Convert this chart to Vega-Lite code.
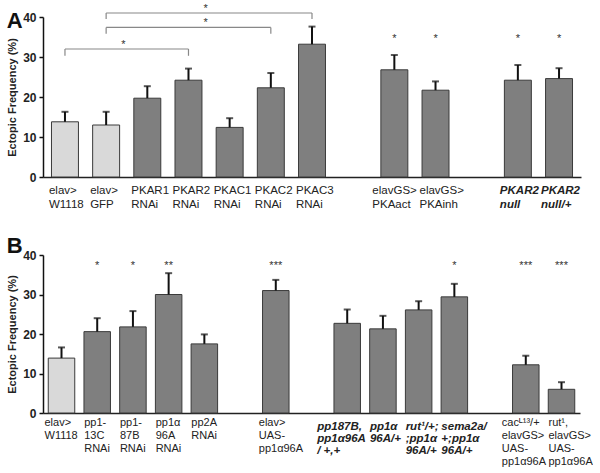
{
  "$schema": "https://vega.github.io/schema/vega-lite/v6.json",
  "autosize": {"type": "pad"},
  "padding": {"left": 6, "top": 3, "right": 0, "bottom": 0},
  "background": "white",
  "config": {
    "view": {"stroke": null},
    "font": "Liberation Sans",
    "axisY": {
      "domainColor": "#111", "domainWidth": 1.5, "tickColor": "#111", "tickSize": 4, "tickWidth": 1.5, "tickCount": 4,
      "labelFontSize": 12, "labelFontWeight": "bold", "labelColor": "#222", "labelPadding": 3,
      "titleFontSize": 11, "titleFontWeight": "bold", "titleColor": "#222", "titlePadding": 5, "grid": false
    }
  },
  "datasets": {
    "barsA": [
      {"id": "a1", "v": 13.8, "err": 16.3, "control": "yes", "italic": "no", "star": "", "label": "elav>\nW1118"},
      {"id": "a2", "v": 13.0, "err": 16.3, "control": "yes", "italic": "no", "star": "", "label": "elav>\nGFP"},
      {"id": "a3", "v": 19.7, "err": 22.7, "control": "no", "italic": "no", "star": "", "label": "PKAR1\nRNAi"},
      {"id": "a4", "v": 24.2, "err": 27.1, "control": "no", "italic": "no", "star": "", "label": "PKAR2\nRNAi"},
      {"id": "a5", "v": 12.4, "err": 14.7, "control": "no", "italic": "no", "star": "", "label": "PKAC1\nRNAi"},
      {"id": "a6", "v": 22.3, "err": 26.0, "control": "no", "italic": "no", "star": "", "label": "PKAC2\nRNAi"},
      {"id": "a7", "v": 33.2, "err": 37.6, "control": "no", "italic": "no", "star": "", "label": "PKAC3\nRNAi"},
      {"id": "a8", "v": 26.8, "err": 30.5, "control": "no", "italic": "no", "star": "*", "label": "elavGS>\nPKAact"},
      {"id": "a9", "v": 21.7, "err": 23.9, "control": "no", "italic": "no", "star": "*", "label": "elavGS>\nPKAinh"},
      {"id": "a10", "v": 24.2, "err": 28.0, "control": "no", "italic": "yes", "star": "*", "label": "PKAR2\nnull"},
      {"id": "a11", "v": 24.6, "err": 27.2, "control": "no", "italic": "yes", "star": "*", "label": "PKAR2\nnull/+"}
    ],
    "bracketsA": [
      {"from": "a1", "to": "a4", "level": 32.0, "foot": 30.3, "starAt": "a3"},
      {"from": "a2", "to": "a6", "level": 37.4, "foot": 35.8, "starAt": "a5"},
      {"from": "a2", "to": "a7", "level": 41.0, "foot": 39.5, "starAt": "a5"}
    ],
    "barsB": [
      {"id": "b1", "v": 13.9, "err": 16.6, "control": "yes", "italic": "no", "star": "", "label": "elav>\nW1118"},
      {"id": "b2", "v": 20.6, "err": 24.0, "control": "no", "italic": "no", "star": "*", "label": "pp1-\n13C\nRNAi"},
      {"id": "b3", "v": 21.8, "err": 25.8, "control": "no", "italic": "no", "star": "*", "label": "pp1-\n87B\nRNAi"},
      {"id": "b4", "v": 30.0, "err": 35.4, "control": "no", "italic": "no", "star": "**", "label": "pp1α\n96A\nRNAi"},
      {"id": "b5", "v": 17.5, "err": 19.9, "control": "no", "italic": "no", "star": "", "label": "pp2A\nRNAi"},
      {"id": "b6", "v": 31.0, "err": 33.7, "control": "no", "italic": "no", "star": "***", "label": "elav>\nUAS-\npp1α96A"},
      {"id": "b7", "v": 22.7, "err": 26.2, "control": "no", "italic": "yes", "star": "", "label": "pp187B,\npp1α96A\n/ +,+"},
      {"id": "b8", "v": 21.3, "err": 24.6, "control": "no", "italic": "yes", "star": "", "label": "pp1α\n96A/+"},
      {"id": "b9", "v": 26.1, "err": 28.3, "control": "no", "italic": "yes", "star": "", "label": "rut¹/+;\n;pp1α\n96A/+"},
      {"id": "b10", "v": 29.4, "err": 32.7, "control": "no", "italic": "yes", "star": "*", "label": "sema2a/\n+;pp1α\n96A/+"},
      {"id": "b11", "v": 12.2, "err": 14.5, "control": "no", "italic": "no", "star": "***", "label": "cacᴸ¹³/+\nelavGS>\nUAS-\npp1α96A"},
      {"id": "b12", "v": 6.0, "err": 7.8, "control": "no", "italic": "no", "star": "***", "label": "rut¹,\nelavGS>\nUAS-\npp1α96A"}
    ]
  },
  "spacing": 78,
  "bounds": "flush",
  "vconcat": [
    {
      "title": {"text": "A", "anchor": "start", "frame": "bounds", "fontSize": 22, "fontWeight": "bold", "color": "#111", "offset": -30},
      "width": 538,
      "height": 160,
      "layer": [
        {
          "data": {"name": "barsA"},
          "mark": {"type": "bar", "stroke": "#3a3a3a", "strokeWidth": 1},
          "encoding": {
            "x": {"field": "id", "type": "nominal",
              "scale": {"domain": ["a1","a2","a3","a4","a5","a6","a7","ag1","a8","a9","ag2","a10","a11"], "paddingInner": 0.345, "paddingOuter": 0.206},
              "axis": {"labels": false, "ticks": false, "title": null, "domainColor": "#222", "domainWidth": 1.5, "grid": false}},
            "y": {"field": "v", "type": "quantitative", "scale": {"domain": [0, 40], "nice": false},
              "axis": {"title": "Ectopic Frequency (%)"}},
            "fill": {"field": "control", "type": "nominal", "scale": {"domain": ["yes", "no"], "range": ["#d9d9d9", "#7f7f7f"]}, "legend": null}
          }
        },
        {
          "data": {"name": "barsA"},
          "mark": {"type": "rule", "color": "#111", "strokeWidth": 2},
          "encoding": {
            "x": {"field": "id", "type": "nominal"},
            "y": {"field": "v", "type": "quantitative"},
            "y2": {"field": "err"}
          }
        },
        {
          "data": {"name": "barsA"},
          "mark": {"type": "tick", "color": "#111", "size": 7, "thickness": 2, "orient": "horizontal"},
          "encoding": {
            "x": {"field": "id", "type": "nominal"},
            "y": {"field": "err", "type": "quantitative"}
          }
        },
        {
          "data": {"name": "barsA"},
          "mark": {"type": "text", "fontSize": 11, "color": "#333", "baseline": "middle"},
          "encoding": {
            "x": {"field": "id", "type": "nominal"},
            "y": {"datum": 34.5},
            "text": {"field": "star"}
          }
        },
        {
          "data": {"name": "barsA"},
          "transform": [{"filter": "datum.italic == 'no' && datum.id != 'a8'"}],
          "mark": {"type": "text", "fontSize": 11.5, "color": "#222", "baseline": "top", "align": "left", "lineBreak": "\n", "lineHeight": 14, "dy": 8, "dx": -16},
          "encoding": {
            "x": {"field": "id", "type": "nominal"},
            "y": {"datum": 0},
            "text": {"field": "label"}
          }
        },
        {
          "data": {"name": "barsA"},
          "transform": [{"filter": "datum.id == 'a8'"}],
          "mark": {"type": "text", "fontSize": 11.5, "color": "#222", "baseline": "top", "align": "left", "lineBreak": "\n", "lineHeight": 14, "dy": 8, "dx": -22},
          "encoding": {
            "x": {"field": "id", "type": "nominal"},
            "y": {"datum": 0},
            "text": {"field": "label"}
          }
        },
        {
          "data": {"name": "barsA"},
          "transform": [{"filter": "datum.italic == 'yes'"}],
          "mark": {"type": "text", "fontSize": 11.5, "fontStyle": "italic", "fontWeight": "bold", "color": "#222", "baseline": "top", "align": "left", "lineBreak": "\n", "lineHeight": 14, "dy": 8, "dx": -18},
          "encoding": {
            "x": {"field": "id", "type": "nominal"},
            "y": {"datum": 0},
            "text": {"field": "label"}
          }
        },
        {
          "data": {"name": "bracketsA"},
          "mark": {"type": "rule", "color": "#888", "strokeWidth": 1.2},
          "encoding": {
            "x": {"field": "from", "type": "nominal"},
            "x2": {"field": "to"},
            "y": {"field": "level", "type": "quantitative"}
          }
        },
        {
          "data": {"name": "bracketsA"},
          "mark": {"type": "rule", "color": "#888", "strokeWidth": 1.2},
          "encoding": {
            "x": {"field": "from", "type": "nominal"},
            "y": {"field": "level", "type": "quantitative"},
            "y2": {"field": "foot"}
          }
        },
        {
          "data": {"name": "bracketsA"},
          "mark": {"type": "rule", "color": "#888", "strokeWidth": 1.2},
          "encoding": {
            "x": {"field": "to", "type": "nominal"},
            "y": {"field": "level", "type": "quantitative"},
            "y2": {"field": "foot"}
          }
        },
        {
          "data": {"name": "bracketsA"},
          "mark": {"type": "text", "text": "*", "fontSize": 11, "color": "#333", "baseline": "alphabetic", "dx": -24, "dy": -1},
          "encoding": {
            "x": {"field": "starAt", "type": "nominal"},
            "y": {"field": "level", "type": "quantitative"}
          }
        }
      ]
    },
    {
      "title": {"text": "B", "anchor": "start", "frame": "bounds", "fontSize": 22, "fontWeight": "bold", "color": "#111", "offset": -9},
      "width": 537,
      "height": 158,
      "layer": [
        {
          "data": {"name": "barsB"},
          "mark": {"type": "bar", "stroke": "#3a3a3a", "strokeWidth": 1},
          "encoding": {
            "x": {"field": "id", "type": "nominal",
              "scale": {"domain": ["b1","b2","b3","b4","b5","bg1","b6","bg2","b7","b8","b9","b10","bg3","b11","b12"], "paddingInner": 0.258, "paddingOuter": 0.147},
              "axis": {"labels": false, "ticks": false, "title": null, "domainColor": "#222", "domainWidth": 1.5, "grid": false}},
            "y": {"field": "v", "type": "quantitative", "scale": {"domain": [0, 40], "nice": false},
              "axis": {"title": "Ectopic Frequency (%)"}},
            "fill": {"field": "control", "type": "nominal", "scale": {"domain": ["yes", "no"], "range": ["#d9d9d9", "#7f7f7f"]}, "legend": null}
          }
        },
        {
          "data": {"name": "barsB"},
          "mark": {"type": "rule", "color": "#111", "strokeWidth": 2},
          "encoding": {
            "x": {"field": "id", "type": "nominal"},
            "y": {"field": "v", "type": "quantitative"},
            "y2": {"field": "err"}
          }
        },
        {
          "data": {"name": "barsB"},
          "mark": {"type": "tick", "color": "#111", "size": 7, "thickness": 2, "orient": "horizontal"},
          "encoding": {
            "x": {"field": "id", "type": "nominal"},
            "y": {"field": "err", "type": "quantitative"}
          }
        },
        {
          "data": {"name": "barsB"},
          "mark": {"type": "text", "fontSize": 11, "color": "#333", "baseline": "middle"},
          "encoding": {
            "x": {"field": "id", "type": "nominal"},
            "y": {"datum": 37.3},
            "text": {"field": "star"}
          }
        },
        {
          "data": {"name": "barsB"},
          "transform": [{"filter": "datum.italic == 'no' && indexof(['b1','b6','b11'], datum.id) < 0"}],
          "mark": {"type": "text", "fontSize": 11, "color": "#222", "baseline": "top", "align": "left", "lineBreak": "\n", "lineHeight": 13, "dy": 4, "dx": -13},
          "encoding": {
            "x": {"field": "id", "type": "nominal"},
            "y": {"datum": 0},
            "text": {"field": "label"}
          }
        },
        {
          "data": {"name": "barsB"},
          "transform": [{"filter": "indexof(['b1','b6'], datum.id) >= 0"}],
          "mark": {"type": "text", "fontSize": 11, "color": "#222", "baseline": "top", "align": "left", "lineBreak": "\n", "lineHeight": 13, "dy": 4, "dx": -17},
          "encoding": {
            "x": {"field": "id", "type": "nominal"},
            "y": {"datum": 0},
            "text": {"field": "label"}
          }
        },
        {
          "data": {"name": "barsB"},
          "transform": [{"filter": "datum.id == 'b11'"}],
          "mark": {"type": "text", "fontSize": 11, "color": "#222", "baseline": "top", "align": "left", "lineBreak": "\n", "lineHeight": 13, "dy": 4, "dx": -24},
          "encoding": {
            "x": {"field": "id", "type": "nominal"},
            "y": {"datum": 0},
            "text": {"field": "label"}
          }
        },
        {
          "data": {"name": "barsB"},
          "transform": [{"filter": "datum.italic == 'yes' && datum.id != 'b7'"}],
          "mark": {"type": "text", "fontSize": 11.5, "fontStyle": "italic", "fontWeight": "bold", "color": "#222", "baseline": "top", "align": "left", "lineBreak": "\n", "lineHeight": 12, "dy": 8, "dx": -13},
          "encoding": {
            "x": {"field": "id", "type": "nominal"},
            "y": {"datum": 0},
            "text": {"field": "label"}
          }
        },
        {
          "data": {"name": "barsB"},
          "transform": [{"filter": "datum.id == 'b7'"}],
          "mark": {"type": "text", "fontSize": 11.5, "fontStyle": "italic", "fontWeight": "bold", "color": "#222", "baseline": "top", "align": "left", "lineBreak": "\n", "lineHeight": 12, "dy": 8, "dx": -30},
          "encoding": {
            "x": {"field": "id", "type": "nominal"},
            "y": {"datum": 0},
            "text": {"field": "label"}
          }
        }
      ]
    }
  ]
}
